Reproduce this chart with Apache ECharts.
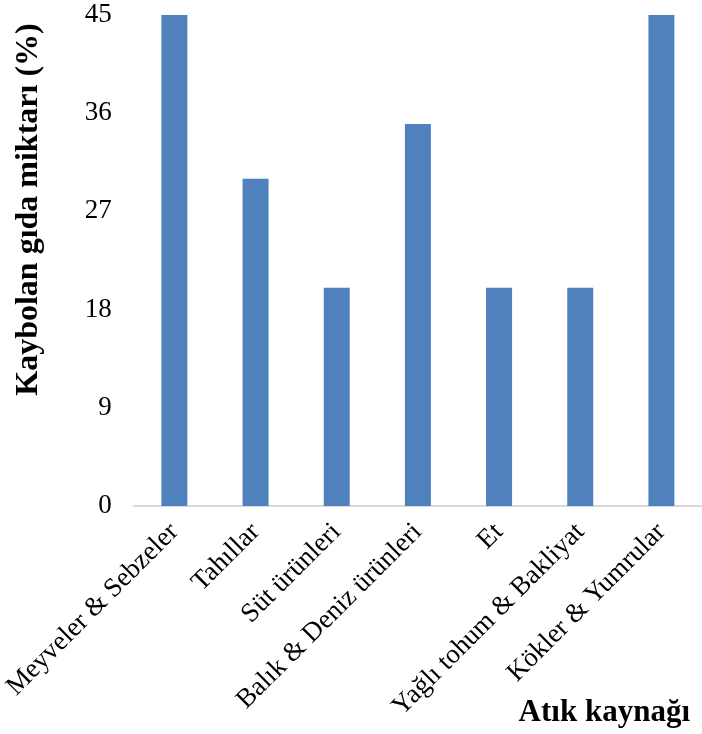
<!DOCTYPE html>
<html>
<head>
<meta charset="utf-8">
<script src="https://cdn.jsdelivr.net/npm/echarts@6/dist/echarts.min.js"></script>
<style>html,body{margin:0;padding:0;background:#fff}#c{width:702px;height:734px}</style>
</head>
<body>
<div id="c"></div>
<script>
const categories = ["Meyveler & Sebzeler", "Tahıllar", "Süt ürünleri", "Balık & Deniz ürünleri", "Et", "Yağlı tohum & Bakliyat", "Kökler & Yumrular"];
const values = [45, 30, 20, 35, 20, 20, 45];
const yTicks = [0, 9, 18, 27, 36, 45];
const yTitle = "Kaybolan gıda miktarı (%)";
const xTitle = "Atık kaynağı";

const font = "Liberation Serif";
const chart = echarts.init(document.getElementById('c'));
chart.setOption({
  animation: false,
  grid: { left: 129, width: 576, top: 15, bottom: 228 },
  xAxis: {
    type: 'category',
    data: categories,
    axisLine: { lineStyle: { color: '#d9d9d9', width: 2 } },
    axisTick: { show: false },
    axisLabel: { rotate: 45, margin: 22, color: '#000', fontFamily: font, fontSize: 27, interval: 0 },
    name: xTitle,
    nameLocation: 'end',
    nameGap: -12,
    nameTextStyle: { fontFamily: font, fontSize: 31, fontWeight: 'bold', color: '#000', align: 'right', verticalAlign: 'top', padding: [191, 0, 0, 0] }
  },
  yAxis: {
    type: 'value',
    min: yTicks[0],
    max: yTicks[yTicks.length - 1],
    interval: yTicks[1] - yTicks[0],
    axisLine: { show: false },
    axisTick: { show: false },
    splitLine: { show: false },
    axisLabel: { margin: 22, color: '#000', fontFamily: font, fontSize: 27 },
    name: yTitle,
    nameLocation: 'middle',
    nameRotate: 90,
    nameGap: 89,
    nameTextStyle: { fontFamily: font, fontSize: 32, fontWeight: 'bold', color: '#000', padding: [0, 0, 0, 102] }
  },
  series: [{
    type: 'bar',
    data: values,
    barWidth: 26,
    itemStyle: { color: '#4f81bd' }
  }]
});
</script>
</body>
</html>
